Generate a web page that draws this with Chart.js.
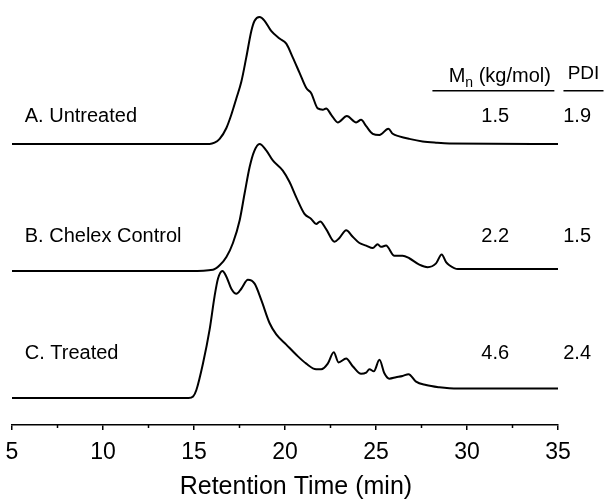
<!DOCTYPE html>
<html>
<head>
<meta charset="utf-8">
<script src="https://cdn.jsdelivr.net/npm/chart.js@4.4.1/dist/chart.umd.min.js"></script>
<style>
html, body { margin: 0; padding: 0; background: #fff; }
</style>
</head>
<body>
<canvas id="gpc" width="604" height="499"></canvas>
<script>
// retention time (min) and relative detector signal (% of each trace's max)
const timeA = [5, 14.8, 15.86, 16.13, 16.41, 16.78, 17.05, 17.33, 17.6, 17.87, 18.15, 18.33, 18.6, 18.88, 19.24, 19.7, 20.07, 20.43, 20.8, 21.17, 21.44, 21.8,
    22.08, 22.26, 22.54, 22.9, 23.4, 23.91, 24.18, 24.46, 24.82, 25.19, 25.68, 25.92, 26.28, 26.83, 27.56, 28.3, 29.03, 35];
const untreated = [0, 0, 0, 1, 4, 12.6, 23, 36, 49, 68, 89, 97, 100, 97, 89, 83, 79, 68, 56, 44, 40, 28,
    27, 28, 23, 17, 22, 17, 19, 14, 8, 7, 12, 8, 6, 4, 2, 1, 0.4, 0];

const timeB = [5, 14.8, 16.04, 16.41, 16.78, 17.14, 17.51, 17.78, 18.06, 18.3, 18.6, 18.97, 19.33, 19.88, 20.25, 20.62, 21.07, 21.44, 21.71, 21.93,
    22.26, 22.72, 22.99, 23.36, 23.72, 24.09, 24.46, 24.82, 25.09, 25.28, 25.55, 26.01, 26.46, 26.83, 27.38, 27.84, 28.3, 28.61, 28.85, 29.03,
    29.5, 30, 35];
const chelexControl = [0, 0, 1, 4.5, 11, 22, 40, 61, 82, 94, 100, 95, 87, 79, 70, 58, 45, 41, 37, 39,
    33, 23, 26, 32, 27, 22, 20, 18, 21, 19, 20, 12, 12, 10, 5, 3, 6, 13, 7, 4.5,
    1.5, 1.5, 1.5];

const timeC = [5, 14.7, 14.95, 15.13, 15.49, 15.86, 16.13, 16.32, 16.56, 16.78, 17.05, 17.33, 17.6, 17.96, 18.33, 18.7, 19.15, 19.52, 20.07, 20.62,
    21.17, 21.71, 21.99, 22.35, 22.68, 22.94, 23.36, 23.72, 24.18, 24.46, 24.64, 24.88, 25.19, 25.46, 25.73, 26.1, 26.46, 26.79, 27.2, 27.75,
    28.48, 29.03, 29.6, 35];
const treated = [0, 0, 1.2, 6.3, 27, 54, 80, 94, 100, 95.5, 86, 82, 86, 93, 90, 77, 59, 50, 42, 34,
    27, 22.6, 22.6, 27, 36, 28, 31, 25, 19, 20, 22.6, 21, 30, 19.4, 15.2, 16.3, 17.3, 18.7, 12.8, 10.2,
    8.4, 7.6, 7.4, 7.4];

const sampleNames = ['A. Untreated', 'B. Chelex Control', 'C. Treated'];
const mnValues = ['1.5', '2.2', '4.6'];
const pdiValues = ['1.9', '1.5', '2.4'];
const xTicks = [5, 10, 15, 20, 25, 30, 35];
const minorTicks = [7.5, 12.5, 17.5, 22.5, 27.5, 32.5];
const xTitle = 'Retention Time (min)';

// vertical stacking of the traces
const offsets = [200, 100, 0];
const rowY = [222, 127, 35];

const FONT = '"Liberation Sans", Arial, sans-serif';

function toPoints(times, values, off) {
    return times.map((t, i) => ({ x: t, y: values[i] + off }));
}

const traceStyle = {
    borderColor: '#000',
    borderWidth: 2,
    pointRadius: 0,
    fill: false,
    cubicInterpolationMode: 'monotone'
};

const extras = {
    id: 'extras',
    afterDraw(chart) {
        const { ctx, chartArea, scales: { x, y } } = chart;
        ctx.save();
        ctx.strokeStyle = '#000';
        ctx.fillStyle = '#000';
        ctx.lineWidth = 1.5;

        // minor ticks
        minorTicks.forEach(v => {
            const px = x.getPixelForValue(v);
            ctx.beginPath();
            ctx.moveTo(px, chartArea.bottom);
            ctx.lineTo(px, chartArea.bottom + 3);
            ctx.stroke();
        });

        // axis title, sits a little right of the axis centre
        ctx.font = '25px ' + FONT;
        ctx.textAlign = 'center';
        ctx.textBaseline = 'middle';
        ctx.fillText(xTitle, x.getPixelForValue(20.6), chartArea.bottom + 62);

        ctx.font = '20px ' + FONT;

        const mnX = x.getPixelForValue(31.55);
        const pdiX = x.getPixelForValue(36.05);

        sampleNames.forEach((name, i) => {
            const py = y.getPixelForValue(rowY[i]);
            ctx.textAlign = 'left';
            ctx.fillText(name, x.getPixelForValue(5.7), py);
            ctx.textAlign = 'center';
            ctx.fillText(mnValues[i], mnX, py);
            ctx.fillText(pdiValues[i], pdiX, py);
        });

        // column headers
        const headY = y.getPixelForValue(253);
        ctx.textAlign = 'left';
        const wM = ctx.measureText('M').width;
        const rest = ' (kg/mol)';
        const wRest = ctx.measureText(rest).width;
        ctx.font = '14px ' + FONT;
        const wN = ctx.measureText('n').width;
        const total = wM + wN + wRest;
        let hx = x.getPixelForValue(31.8) - total / 2;
        ctx.font = '20px ' + FONT;
        ctx.fillText('M', hx, headY);
        ctx.font = '14px ' + FONT;
        ctx.fillText('n', hx + wM, headY + 6);
        ctx.font = '20px ' + FONT;
        ctx.fillText(rest, hx + wM + wN, headY);

        ctx.textAlign = 'center';
        ctx.font = '19px ' + FONT;
        ctx.fillText('PDI', x.getPixelForValue(36.4), y.getPixelForValue(255));

        // header rules
        const ruleY = y.getPixelForValue(242);
        ctx.lineWidth = 1.5;
        ctx.beginPath();
        ctx.moveTo(x.getPixelForValue(28.1), ruleY);
        ctx.lineTo(x.getPixelForValue(34.8), ruleY);
        ctx.moveTo(x.getPixelForValue(35.3), ruleY);
        ctx.lineTo(x.getPixelForValue(37.5), ruleY);
        ctx.stroke();
        ctx.restore();
    }
};

new Chart(document.getElementById('gpc'), {
    type: 'line',
    data: {
        datasets: [
            { label: sampleNames[0], data: toPoints(timeA, untreated, offsets[0]), ...traceStyle },
            { label: sampleNames[1], data: toPoints(timeB, chelexControl, offsets[1]), ...traceStyle },
            { label: sampleNames[2], data: toPoints(timeC, treated, offsets[2]), ...traceStyle }
        ]
    },
    options: {
        responsive: false,
        animation: false,
        layout: { padding: { left: 12, right: 46, top: 10, bottom: 0 } },
        plugins: {
            legend: { display: false },
            tooltip: { enabled: false }
        },
        scales: {
            x: {
                type: 'linear',
                min: 5,
                max: 35,
                afterFit: scale => {
                    scale.height = 74;
                    scale.paddingLeft = 0;
                    scale.paddingRight = 0;
                },
                afterBuildTicks: scale => { scale.ticks = xTicks.map(v => ({ value: v })); },
                border: { display: true, color: '#000', width: 1.5 },
                grid: { drawOnChartArea: false, drawTicks: true, tickLength: 5, color: '#000', lineWidth: 1.5 },
                ticks: {
                    color: '#000',
                    padding: 11,
                    maxRotation: 0,
                    font: { family: FONT, size: 23, lineHeight: 1 }
                },
                title: { display: false }
            },
            y: {
                display: false,
                min: -21.3,
                max: 305.5
            }
        }
    },
    plugins: [extras]
});
</script>
</body>
</html>
